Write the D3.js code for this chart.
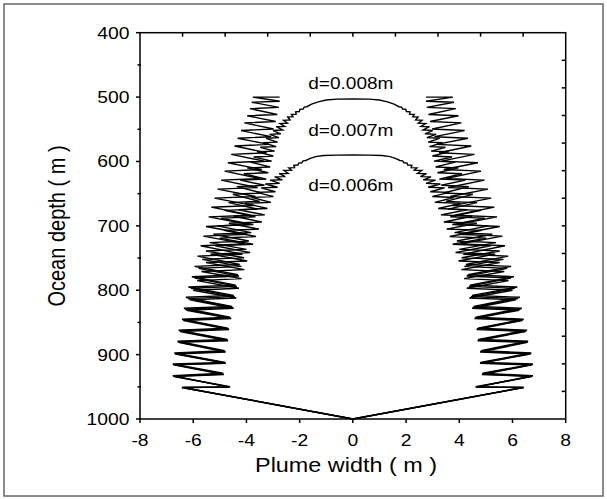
<!DOCTYPE html>
<html><head><meta charset="utf-8">
<script src="https://cdn.jsdelivr.net/npm/d3@7"></script>
<style>body{margin:0;background:#fff}svg{display:block}text{font-family:"Liberation Sans",Arial,sans-serif;fill:#000}</style>
</head><body><svg id="c" width="607" height="499"></svg>
<script>
// ---- data (left half of each plume: [depth, width]; right half is the mirror image) ----
const xTicks = [-8,-6,-4,-2,0,2,4,6,8];
const yTicks = [400,500,600,700,800,900,1000];
const yMinorTicks = [450,550,650,750,850,950];
const topTicks = [-6.4,-4.8,-3.2,-1.6,0,1.6,3.2,4.8,6.4];
const rightTicks = [442.9,485.7,528.6,571.4,614.3,657.1,700,742.9,785.7,828.6,871.4,914.3,957.1];

const plumeOuter = [[1000,0],[951,-6.43],[950.5,-4.65],
[932.7,-6.77],[929,-4.88],[914.5,-6.77],[912,-4.80],[897.4,-6.71],[894,-4.82],
[879,-6.59],[876.5,-4.72],[862,-6.55],[859,-4.70],[845,-6.42],[842,-4.62],
[828,-6.35],[825,-4.55],[811,-6.28],[808,-4.48],[795,-6.18],[792,-4.40],
[779,-6.05],[776,-4.32],[763,-5.95],[760,-4.25],[747,-5.84],[744,-4.15],
[731,-5.72],[728,-4.05],[716,-5.62],[713,-3.97],[701,-5.52],[698,-3.90],
[686,-5.42],[683.5,-3.82],[671,-5.32],[668.5,-3.74],[657,-5.20],[654.5,-3.66],
[643,-5.08],[640.5,-3.58],[629,-4.95],[626.5,-3.50],[615,-4.82],[612.5,-3.42],
[602,-4.70],[599.5,-3.33],[589,-4.57],[586.5,-3.24],[576,-4.45],[573.5,-3.15],
[564,-4.33],[561.5,-3.07],[552,-4.20],[549.5,-2.98],[540,-4.08],[538,-2.90],
[529,-3.97],[527,-2.84],[518,-3.87],[516,-2.78],[508,-3.80],[506.5,-2.75],
[500,-3.76],[500,-2.75]];

const plumeD008 = [[1000,0],[951,-6.41],[950.5,-4.63],
[933.5,-6.75],[930,-4.86],[915.5,-6.75],[913,-4.79],[898.5,-6.69],[895,-4.80],
[880,-6.58],[877.5,-4.70],[863,-6.52],[860,-4.67],[846,-6.39],[843,-4.60],
[829.5,-6.30],[826.5,-4.52],[813,-6.20],[810,-4.44],[797,-6.08],[794,-4.36],
[781,-5.94],[778,-4.28],[766,-5.80],[763,-4.19],[752,-5.66],[749.5,-4.09],
[739,-5.52],[736.5,-4.00],[726,-5.38],[723.5,-3.91],[713,-5.24],[710.5,-3.82],
[700,-5.10],[698,-3.74],[688,-4.96],[686,-3.66],[676,-4.82],[674,-3.58],
[664,-4.67],[662,-3.50],[651,-4.51],[649,-3.41],
[639,-4.36],[637,-3.32],[629,-4.23],[627.5,-3.25],[619,-4.10],[617.5,-3.18],
[610,-3.97],[608.5,-3.11],[601,-3.85],[599.5,-3.05],[593,-3.73],[591.5,-2.99],
[585,-3.60],[584,-2.94],[578,-3.48],[577,-2.88],[571,-3.37],[570,-2.83],
[564,-3.26],[563,-2.78],[558,-3.13],[557,-2.71],[552,-3.00],[551,-2.64],
[546,-2.88],[545.5,-2.56],[541,-2.74],[540.5,-2.46],[536,-2.60],[535.5,-2.36],
[531,-2.45],[530.5,-2.25],[527,-2.31],[526.5,-2.13],[523,-2.15],[522.5,-2.01],
[519,-1.99],[518.5,-1.87],[515.5,-1.83],[515,-1.73],
[511,-1.55],[507.5,-1.3],[504.5,-1.0],[503.2,-0.6],[503,0]];

const plumeD007 = [[1000,0],[951,-6.39],[950,-4.61],
[934,-6.73],[931,-4.85],[916,-6.73],[913.5,-4.78],[899,-6.67],[896,-4.78],
[881,-6.56],[878.5,-4.69],[864,-6.49],[861,-4.65],[847,-6.36],[844,-4.57],
[831,-6.25],[828,-4.48],[815,-6.13],[812,-4.38],[800,-6.00],[797,-4.28],
[785,-5.85],[782,-4.18],[771,-5.69],[768,-4.08],[757,-5.52],[754.5,-3.97],
[744,-5.35],[741.5,-3.86],[731,-5.18],[728.5,-3.75],[719,-5.01],[716.5,-3.64],
[707,-4.84],[705,-3.53],[696,-4.66],[694,-3.42],[685,-4.48],[683,-3.31],
[675,-4.30],[673,-3.21],[665,-4.05],[663.5,-3.08],[656,-3.80],[654.5,-2.99],
[648,-3.61],[647,-2.91],[641,-3.45],[640,-2.83],
[635,-3.29],[634,-2.75],[629,-3.11],[628.5,-2.65],[624,-2.94],[623.5,-2.54],
[619,-2.77],[618.5,-2.43],[614,-2.59],[613.5,-2.31],[610,-2.41],[609.5,-2.19],
[606,-2.22],[605.5,-2.06],[602.5,-2.04],[602,-1.92],[599,-1.87],[598.5,-1.77],
[595.5,-1.62],[592.5,-1.4],[590.8,-1.1],[590.2,-0.6],[590,0]];

const labels = [
  {text:"d=0.008m", x:0, depth:487},
  {text:"d=0.007m", x:0, depth:560},
  {text:"d=0.006m", x:0, depth:646}
];

// ---- drawing ----
const svg = d3.select("#c");
const SX = 1.17; // horizontal stretch of the reference glyphs
const L = 140, R = 565.7, T = 32.7, B = 419;
const x = d3.scaleLinear().domain([-8,8]).range([L,R]);
const y = d3.scaleLinear().domain([400,1000]).range([T,B]);

// outer frame
svg.append("rect").attr("x",4).attr("y",4).attr("width",599).attr("height",492)
  .attr("fill","none").attr("stroke","#666").attr("stroke-width",1.5);

const line = d3.line().x(d=>x(d[1])).y(d=>y(d[0]));
const mirror = pts => pts.map(p=>[p[0],-p[1]]);
const g = svg.append("g").attr("fill","none").attr("stroke","#000").attr("stroke-width",1.4).attr("stroke-linejoin","miter").attr("stroke-miterlimit",4);

// open outer plume: two separate halves
g.append("path").attr("d", line(plumeOuter));
g.append("path").attr("d", line(mirror(plumeOuter)));
// closed plumes
[plumeD008, plumeD007].forEach(p=>{
  const full = p.concat(mirror(p).reverse().slice(1));
  g.append("path").attr("d", line(full));
});

// axes box
const ax = svg.append("g").attr("stroke","#000").attr("stroke-width",1.5).attr("fill","none");
ax.append("rect").attr("x",L).attr("y",T).attr("width",R-L).attr("height",B-T);
xTicks.forEach(v=>ax.append("line").attr("x1",x(v)).attr("x2",x(v)).attr("y1",B).attr("y2",B+4));
yTicks.forEach(v=>ax.append("line").attr("x1",L-4).attr("x2",L).attr("y1",y(v)).attr("y2",y(v)));
yMinorTicks.forEach(v=>ax.append("line").attr("x1",L-2.5).attr("x2",L+1).attr("y1",y(v)).attr("y2",y(v)));
topTicks.forEach(v=>ax.append("line").attr("x1",x(v)).attr("x2",x(v)).attr("y1",T).attr("y2",T+4));
rightTicks.forEach(v=>ax.append("line").attr("x1",R-4).attr("x2",R).attr("y1",y(v)).attr("y2",y(v)));

function txt(s, px, py, size, anchor, rot){
  return svg.append("text").text(s).attr("font-size",size).attr("text-anchor",anchor)
    .attr("transform",`translate(${px},${py}) scale(${SX},1)` + (rot?` rotate(${rot})`:""));
}
xTicks.forEach(v=>txt(String(v), x(v), 445.5, 16.5, "middle"));
yTicks.forEach(v=>txt(String(v), 129.5, y(v)+6, 16.5, "end"));
txt("Plume width  ( m )", 346, 471.5, 20, "middle");
txt("Ocean depth ( m )", 65, 226, 20, "middle", -90);
labels.forEach(l=>txt(l.text, x(l.x)-2, y(l.depth), 16.3, "middle"));
</script></body></html>
